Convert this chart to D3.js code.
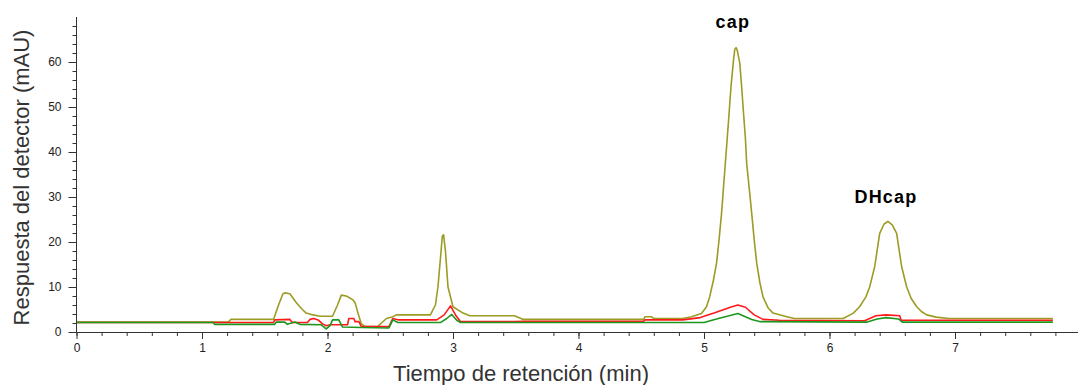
<!DOCTYPE html>
<html>
<head>
<meta charset="utf-8">
<script src="https://cdn.jsdelivr.net/npm/d3@7"></script>
<style>
  html, body { margin: 0; padding: 0; background: #fff; }
  svg { display: block; font-family: "Liberation Sans", Arial, sans-serif; }
</style>
</head>
<body>
<svg id="chart" width="1078" height="385"></svg>
<script>
// tiempo (min), respuesta (mAU)
const oliveTrace = [
  [0, 2.2], [1.21, 2.2], [1.23, 2.8], [1.57, 2.8], [1.61, 6], [1.645, 8.5], [1.66, 8.7],
  [1.70, 8.5], [1.755, 6.4], [1.80, 5.0], [1.83, 4.2], [1.885, 3.8], [1.94, 3.5], [2.04, 3.5],
  [2.08, 6], [2.11, 8.2], [2.15, 8.0], [2.20, 7.2], [2.22, 6.5], [2.245, 4], [2.27, 1.8],
  [2.30, 1.2], [2.40, 1.2], [2.43, 2.0], [2.47, 3.0], [2.52, 3.4], [2.55, 3.8], [2.82, 3.8],
  [2.86, 6], [2.88, 10], [2.905, 18], [2.915, 21.3], [2.925, 21.6], [2.94, 18], [2.96, 10],
  [3.00, 5.6], [3.08, 4.2], [3.135, 3.6], [3.49, 3.6], [3.56, 2.8], [4.52, 2.8], [4.53, 3.4],
  [4.58, 3.4], [4.60, 3.0], [4.83, 3.0], [4.90, 3.4], [4.98, 4.1], [5.02, 5.6], [5.045, 7.8],
  [5.075, 11.5], [5.10, 15.3], [5.12, 20.5], [5.14, 26.4], [5.155, 32], [5.17, 37.5],
  [5.185, 43], [5.20, 48.6], [5.215, 54.5], [5.235, 60.4], [5.245, 62.8], [5.255, 63.2],
  [5.265, 62.6], [5.285, 59.8], [5.30, 54.5], [5.315, 48.6], [5.33, 43], [5.34, 37.5],
  [5.36, 32], [5.38, 26.4], [5.40, 20.5], [5.42, 15.3], [5.445, 11], [5.47, 7.8], [5.51, 5.4],
  [5.55, 4.2], [5.66, 3.4], [5.72, 3.0], [6.11, 3.0], [6.19, 4.2], [6.24, 5.6], [6.29, 7.8],
  [6.32, 10], [6.36, 14.5], [6.38, 18.2], [6.40, 21.9], [6.435, 24.0], [6.465, 24.6],
  [6.50, 23.8], [6.535, 21.9], [6.555, 18.2], [6.575, 14.5], [6.615, 10], [6.65, 7.5],
  [6.695, 5.6], [6.735, 4.5], [6.775, 3.8], [6.85, 3.3], [6.95, 3.0], [7.78, 3.0]
];
const redTrace = [
  [0, 2.1], [1.57, 2.1], [1.58, 2.7], [1.70, 2.8], [1.72, 2.1], [1.84, 2.1], [1.86, 2.8],
  [1.89, 3.0], [1.93, 2.6], [1.96, 1.8], [1.99, 1.4], [2.02, 1.6], [2.16, 1.6], [2.17, 3.0],
  [2.21, 3.0], [2.22, 2.3], [2.25, 2.3], [2.27, 1.2], [2.49, 1.2], [2.52, 3.0], [2.56, 2.7],
  [2.87, 2.7], [2.93, 3.8], [2.98, 5.8], [3.02, 3.8], [3.06, 2.3], [3.49, 2.3], [3.56, 2.4],
  [4.52, 2.4], [4.53, 2.7], [4.83, 2.7], [4.97, 3.2], [5.08, 4.2], [5.21, 5.5], [5.27, 6.0],
  [5.33, 5.5], [5.40, 3.8], [5.47, 2.8], [5.60, 2.6], [6.28, 2.5], [6.37, 3.6], [6.45, 3.8],
  [6.56, 3.6], [6.57, 2.6], [7.78, 2.6]
];
const greenTrace = [
  [0, 2.1], [1.09, 2.1], [1.10, 1.7], [1.58, 1.7], [1.59, 2.2], [1.66, 2.2], [1.68, 1.7],
  [1.74, 2.2], [1.78, 1.7], [1.95, 1.6], [1.99, 0.7], [2.02, 1.4], [2.04, 2.7], [2.09, 2.7],
  [2.12, 1.1], [2.27, 1.0], [2.49, 0.9], [2.52, 2.7], [2.56, 2.1], [2.90, 2.1], [2.95, 3.0],
  [2.99, 3.9], [3.03, 2.6], [3.06, 2.1], [5.00, 2.1], [5.10, 2.9], [5.27, 4.1], [5.38, 2.8],
  [5.45, 2.3], [6.30, 2.2], [6.38, 2.9], [6.45, 3.2], [6.55, 2.9], [6.58, 2.2], [7.78, 2.2]
];
const peakLabels = [
  { text: 'cap', t: 5.23, v: 63.4 },
  { text: 'DHcap', t: 6.45, v: 24.5 }
];
const xMajor = [0, 1, 2, 3, 4, 5, 6, 7];
const yMajor = [0, 10, 20, 30, 40, 50, 60];

const svg = d3.select('#chart');
const x = d3.scaleLinear().domain([0, 8]).range([76.5, 1080.5]);
const y = d3.scaleLinear().domain([0, 70]).range([332, 17]);

// lines
const line = d3.line().x(d => x(d[0])).y(d => y(d[1]));
const series = [
  { data: oliveTrace, color: '#9c9c24' },
  { data: redTrace, color: '#ff1a1a' },
  { data: greenTrace, color: '#1e961e' }
];
svg.append('g').selectAll('path')
  .data(series)
  .enter()
  .append('path')
  .attr('d', d => line(d.data))
  .attr('fill', 'none')
  .attr('stroke', d => d.color)
  .attr('stroke-width', 1.6)
  .attr('stroke-linejoin', 'round');

// axes (minor ticks in their own groups so the majors don't replace them)
const axisColor = '#333';
svg.append('g').attr('transform', 'translate(0,332)')
  .call(d3.axisBottom(x).tickValues(d3.range(0, 7.9, 0.2)).tickSize(4).tickFormat(''))
  .select('.domain').remove();
const gx = svg.append('g').attr('transform', 'translate(0,332)');
gx.call(d3.axisBottom(x).tickValues(xMajor).tickSize(7).tickFormat(d3.format('d')));
gx.selectAll('.domain').attr('d', 'M' + x(0) + ',0.5H1078');

svg.append('g').attr('transform', 'translate(76.5,0)')
  .call(d3.axisLeft(y).tickValues(d3.range(0, 70, 2)).tickSize(4).tickFormat(''))
  .select('.domain').remove();
const gy = svg.append('g').attr('transform', 'translate(76.5,0)');
gy.call(d3.axisLeft(y).tickValues(yMajor).tickSize(8).tickFormat(d3.format('d')));
gy.selectAll('.domain').attr('d', 'M0,' + y(70) + 'V' + y(0));

svg.selectAll('.domain, .tick line').attr('stroke', axisColor);
svg.selectAll('.tick text')
  .attr('font-family', '"Liberation Sans", Arial, sans-serif')
  .attr('font-size', 12)
  .attr('fill', '#222');
gx.selectAll('.tick text').attr('y', 11);
gy.selectAll('.tick text').attr('x', -15);

// axis titles
svg.append('text')
  .attr('x', 521)
  .attr('y', 381)
  .attr('text-anchor', 'middle')
  .attr('font-size', 22)
  .attr('fill', '#333')
  .text('Tiempo de retención (min)');

svg.append('text')
  .attr('transform', 'translate(29,177.5) rotate(-90)')
  .attr('text-anchor', 'middle')
  .attr('font-size', 22)
  .attr('fill', '#333')
  .text('Respuesta del detector (mAU)');

// peak labels
svg.append('g').selectAll('text')
  .data(peakLabels)
  .enter()
  .append('text')
  .attr('x', d => x(d.t))
  .attr('y', d => y(d.v) - 19)
  .attr('text-anchor', 'middle')
  .attr('font-size', 18)
  .attr('font-weight', 'bold')
  .attr('letter-spacing', 1.2)
  .attr('fill', '#000')
  .text(d => d.text);
</script>
</body>
</html>
